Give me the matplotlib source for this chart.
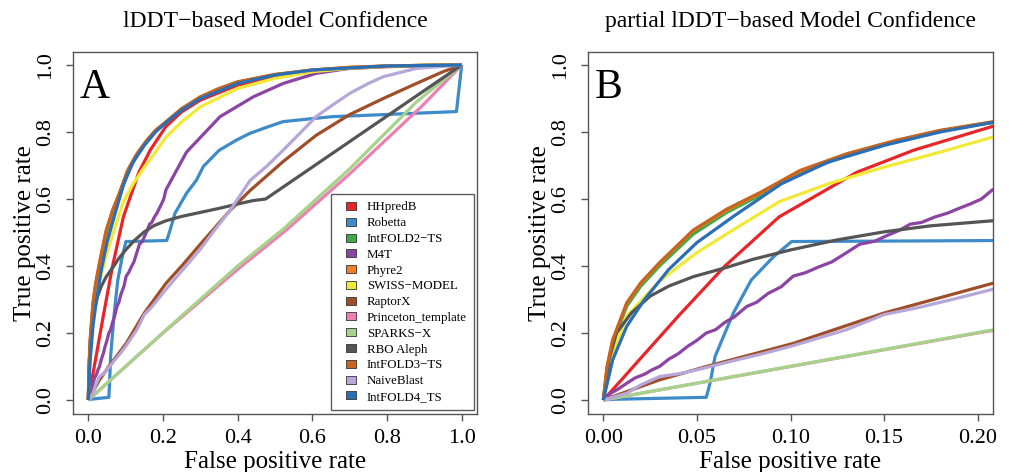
import matplotlib
matplotlib.use("Agg")
import matplotlib.pyplot as plt
from matplotlib.lines import Line2D

plt.rcParams['font.family'] = ['Liberation Serif', 'DejaVu Serif']

# ---------------- data ----------------
methods = ["HHpredB", "Robetta", "IntFOLD2\u2212TS", "M4T", "Phyre2", "SWISS\u2212MODEL",
           "RaptorX", "Princeton_template", "SPARKS\u2212X", "RBO Aleph",
           "IntFOLD3\u2212TS", "NaiveBlast", "IntFOLD4_TS"]
colors = ["#E8262A", "#3D8BC9", "#3DAA48", "#8B44A3", "#F27F22", "#F2E937",
          "#9E4F2A", "#EE7FB3", "#A6D38A", "#555555", "#C8641E", "#B7A6D8", "#2A6FB5"]

hhpred_fpr = [0, 0.01, 0.02, 0.04, 0.065, 0.094, 0.1355, 0.166, 0.2075, 0.25, 0.3, 0.4, 0.5, 0.6, 0.7, 0.8, 0.9, 1.0]
hhpred_tpr = [0, 0.062, 0.125, 0.25, 0.40, 0.547, 0.68, 0.746, 0.816, 0.86, 0.895, 0.94, 0.965, 0.98, 0.99, 0.995, 0.998, 1.0]

robetta_fpr = [0, 0.005, 0.055, 0.057, 0.0597, 0.0694, 0.079, 0.091, 0.1006, 0.21, 0.219, 0.232, 0.263, 0.29, 0.308,
               0.35, 0.397, 0.433, 0.48, 0.522, 0.6, 0.656, 0.75, 0.834, 0.9, 0.986, 1.0]
robetta_tpr = [0, 0.002, 0.008, 0.05, 0.13, 0.259, 0.358, 0.428, 0.473, 0.476, 0.507, 0.557, 0.617, 0.657, 0.697,
               0.745, 0.776, 0.796, 0.815, 0.831, 0.84, 0.846, 0.85, 0.854, 0.857, 0.861, 1.0]

intfold2_fpr = [0, 0.002, 0.005, 0.0125, 0.02, 0.03, 0.048, 0.066, 0.084, 0.105, 0.13, 0.157, 0.18, 0.2075,
                0.25, 0.3, 0.35, 0.4, 0.5, 0.6, 0.7, 0.8, 0.9, 1.0]
intfold2_tpr = [0, 0.095, 0.17, 0.28, 0.34, 0.40, 0.495, 0.56, 0.612, 0.678, 0.73, 0.772, 0.803, 0.828,
                0.868, 0.903, 0.928, 0.948, 0.971, 0.984, 0.992, 0.997, 0.999, 1.0]

m4t_fpr = [0, 0.004, 0.008, 0.0125, 0.017, 0.022, 0.026, 0.03, 0.035, 0.04, 0.045, 0.05, 0.055, 0.06, 0.065, 0.07,
           0.0766, 0.082, 0.088, 0.095, 0.1015, 0.108, 0.115, 0.122, 0.13, 0.137, 0.145, 0.152, 0.158, 0.164, 0.17,
           0.177, 0.184, 0.19, 0.196, 0.202, 0.2078, 0.263, 0.353, 0.442, 0.522, 0.61, 0.7, 0.8, 0.9, 1.0]
m4t_tpr = [0, 0.02, 0.033, 0.05, 0.066, 0.077, 0.09, 0.10, 0.122, 0.138, 0.16, 0.178, 0.2, 0.21, 0.232, 0.248,
           0.279, 0.292, 0.318, 0.338, 0.37, 0.38, 0.397, 0.412, 0.44, 0.465, 0.474, 0.492, 0.506, 0.525, 0.53,
           0.546, 0.558, 0.572, 0.585, 0.6, 0.627, 0.74, 0.846, 0.905, 0.945, 0.975, 0.99, 0.996, 0.999, 1.0]

phyre2_fpr = [0, 0.002, 0.005, 0.0125, 0.02, 0.03, 0.048, 0.066, 0.084, 0.105, 0.13, 0.157, 0.18, 0.2075,
              0.25, 0.3, 0.35, 0.4, 0.5, 0.6, 0.7, 0.8, 0.9, 1.0]
phyre2_tpr = [0, 0.098, 0.178, 0.288, 0.348, 0.408, 0.505, 0.567, 0.618, 0.683, 0.733, 0.775, 0.804, 0.829,
              0.869, 0.904, 0.929, 0.949, 0.971, 0.985, 0.993, 0.997, 0.999, 1.0]

swiss_fpr = [0, 0.0036, 0.0125, 0.03, 0.05, 0.07, 0.094, 0.12, 0.148, 0.18, 0.2075, 0.25, 0.3, 0.4, 0.5, 0.6, 0.7, 0.8, 0.9, 1.0]
swiss_tpr = [0, 0.12, 0.25, 0.355, 0.44, 0.51, 0.592, 0.645, 0.692, 0.74, 0.784, 0.83, 0.875, 0.93, 0.96, 0.98, 0.99, 0.996, 0.999, 1.0]

raptorx_fpr = [0, 0.01, 0.03, 0.055, 0.1015, 0.1496, 0.2078, 0.254, 0.3, 0.379, 0.433, 0.522, 0.61, 0.7, 0.79, 0.879, 0.95, 1.0]
raptorx_tpr = [0, 0.02, 0.06, 0.10, 0.169, 0.259, 0.348, 0.405, 0.465, 0.565, 0.625, 0.712, 0.79, 0.852, 0.9, 0.945, 0.98, 1.0]

princeton_fpr = [0, 0.2, 0.4, 0.53, 0.7, 0.896, 1.0]
princeton_tpr = [0, 0.2, 0.39, 0.507, 0.675, 0.88, 1.0]

sparks_fpr = [0, 0.2078, 0.4, 0.522, 0.7, 0.879, 1.0]
sparks_tpr = [0, 0.209, 0.40, 0.51, 0.69, 0.89, 1.0]

rbo_fpr = [0, 0.003, 0.007, 0.015, 0.025, 0.035, 0.048, 0.066, 0.08, 0.1, 0.125, 0.15, 0.175, 0.2078,
           0.25, 0.3, 0.35, 0.4, 0.44, 0.475, 1.0]
rbo_tpr = [0, 0.12, 0.2, 0.26, 0.31, 0.34, 0.368, 0.396, 0.42, 0.448, 0.478, 0.502, 0.52, 0.535,
           0.548, 0.56, 0.572, 0.585, 0.595, 0.6, 1.0]

intfold3_fpr = [0, 0.002, 0.005, 0.0125, 0.02, 0.03, 0.048, 0.066, 0.084, 0.105, 0.13, 0.157, 0.18, 0.2075,
                0.25, 0.3, 0.35, 0.4, 0.5, 0.6, 0.7, 0.8, 0.9, 1.0]
intfold3_tpr = [0, 0.1, 0.18, 0.29, 0.35, 0.41, 0.507, 0.57, 0.62, 0.685, 0.735, 0.776, 0.805, 0.83,
                0.87, 0.905, 0.93, 0.95, 0.972, 0.985, 0.993, 0.997, 0.999, 1.0]

naive_fpr = [0, 0.0125, 0.02, 0.03, 0.04, 0.05, 0.07, 0.085, 0.1, 0.115, 0.13, 0.15, 0.17, 0.19, 0.2078,
             0.254, 0.3, 0.34, 0.379, 0.433, 0.48, 0.522, 0.57, 0.61, 0.66, 0.7, 0.75, 0.79, 0.879, 1.0]
naive_tpr = [0, 0.02, 0.045, 0.07, 0.078, 0.09, 0.118, 0.138, 0.16, 0.185, 0.21, 0.255, 0.278, 0.305, 0.33,
             0.39, 0.45, 0.51, 0.565, 0.655, 0.70, 0.746, 0.80, 0.846, 0.885, 0.915, 0.945, 0.965, 0.99, 1.0]

intfold4_fpr = [0, 0.005, 0.0125, 0.022, 0.035, 0.05, 0.07, 0.095, 0.12, 0.15, 0.18, 0.2075,
                0.25, 0.3, 0.4, 0.5, 0.6, 0.8, 1.0]
intfold4_tpr = [0, 0.12, 0.22, 0.30, 0.39, 0.47, 0.55, 0.645, 0.71, 0.76, 0.80, 0.828,
                0.865, 0.90, 0.945, 0.97, 0.985, 0.997, 1.0]

curves = [(hhpred_fpr, hhpred_tpr), (robetta_fpr, robetta_tpr), (intfold2_fpr, intfold2_tpr),
          (m4t_fpr, m4t_tpr), (phyre2_fpr, phyre2_tpr), (swiss_fpr, swiss_tpr),
          (raptorx_fpr, raptorx_tpr), (princeton_fpr, princeton_tpr), (sparks_fpr, sparks_tpr),
          (rbo_fpr, rbo_tpr), (intfold3_fpr, intfold3_tpr), (naive_fpr, naive_tpr),
          (intfold4_fpr, intfold4_tpr)]

xticks_a = [0.0, 0.2, 0.4, 0.6, 0.8, 1.0]
xticks_b = [0.00, 0.05, 0.10, 0.15, 0.20]
yticks = [0.0, 0.2, 0.4, 0.6, 0.8, 1.0]

# ---------------- figure ----------------
W, H = 1009, 472
fig = plt.figure(figsize=(W / 100, H / 100), dpi=100)
axA = fig.add_axes([73 / W, 1 - 414 / H, 404 / W, 362 / H])
axB = fig.add_axes([588 / W, 1 - 414 / H, 405 / W, 362 / H])

box_col = "#555555"
for ax, title, letter, xt, xfmt, xlim in [
        (axA, "lDDT\u2212based Model Confidence", "A", xticks_a, "{:.1f}", (-0.041, 1.041)),
        (axB, "partial lDDT\u2212based Model Confidence", "B", xticks_b, "{:.2f}", (-0.0082, 0.2082))]:
    for (fx, ty), c in zip(curves, colors):
        ax.plot(fx, ty, color=c, lw=2.3, solid_capstyle='butt', solid_joinstyle='round')
    ax.set_xlim(*xlim)
    ax.set_ylim(-0.0418, 1.0388)
    ax.set_xticks(xt)
    ax.set_xticklabels([xfmt.format(v) for v in xt], fontsize=16)
    ax.set_yticks(yticks)
    ax.set_yticklabels(["{:.1f}".format(v) for v in yticks], fontsize=16, rotation=90, va='center')
    ax.tick_params(direction='out', length=5, width=1, color=box_col, pad=6)
    ax.tick_params(axis='y', pad=8)
    for s in ax.spines.values():
        s.set_color(box_col)
        s.set_linewidth(1.0)
    ax.set_xlabel("False positive rate", fontsize=18, labelpad=2)
    ax.set_ylabel("True positive rate", fontsize=18, labelpad=0)
    ax.set_title(title, fontsize=17, pad=18)
    ax.text(0.016, 0.955, letter, transform=ax.transAxes, fontsize=30, va='top', ha='left')

swatch = [(-1, -0.7), (1, -0.7), (1, 0.7), (-1, 0.7), (-1, -0.7)]
handles = [Line2D([], [], linestyle='none', marker=swatch, markersize=7.5,
                  markerfacecolor=c, markeredgecolor="#333333", markeredgewidth=0.6)
           for c in colors]
leg = axA.legend(handles, methods, loc='lower right', bbox_to_anchor=(0.9926, 0.011),
                 borderaxespad=0, fontsize=9.3, frameon=True, fancybox=False,
                 handlelength=1.9, handletextpad=0.3, labelspacing=0.29,
                 borderpad=0.55)
leg.get_frame().set_edgecolor("#333333")
leg.get_frame().set_linewidth(1.0)

fig.savefig("out.png", dpi=100)
